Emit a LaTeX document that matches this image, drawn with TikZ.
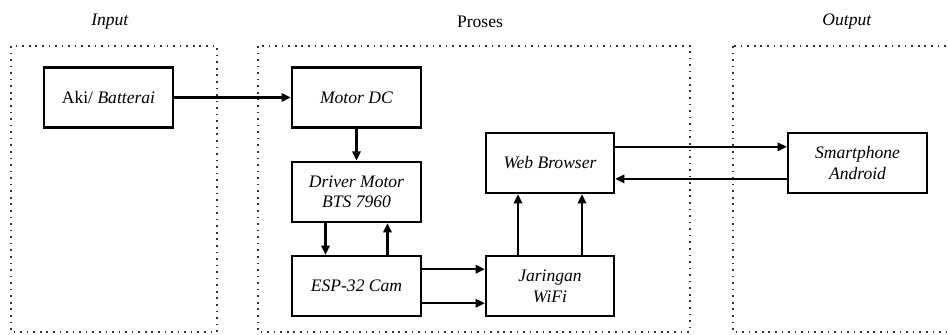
\documentclass[tikz,border=0pt]{standalone}
\usepackage{fontspec}
\setmainfont{Liberation Serif}
\usetikzlibrary{arrows.meta, positioning}

\begin{document}
\begin{tikzpicture}[x=0.03cm, y=-0.03cm, node distance=0.96cm,
    every node/.style={font=\fontsize{15}{17.5}\selectfont},
    block/.style={draw, line width=2pt, minimum width=3.86cm, minimum height=1.8cm, align=center, inner sep=2pt},
    zone/.style={draw=black!80, line width=1.8pt, dash pattern=on 1.4pt off 4.2pt},
    flow/.style={line width=2pt, -{Triangle[length=8pt, width=7pt]}}]
    \useasboundingbox (0,0) rectangle (948,334);
    \clip (0,0) rectangle (948,334);

    % Zones
    \draw[zone] (11,46) rectangle (217,332);
    \draw[zone] (258,46) rectangle (690,332);
    \draw[zone] (733,46) rectangle (970,332);
    \node (input) at (110,22) {\textit{Input}};
    \node (proses) at (480,22) {Proses};
    \node (output) at (847,22) {\textit{Output}};

    % Nodes
    \node[block] (motor) at (356.5,97.5) {\textit{Motor DC}};
    \node[block, left=3.51cm of motor] (aki) {Aki/ \textit{Batterai}};
    \node[block, below=of motor] (driver) {\textit{Driver Motor}\\\textit{BTS 7960}};
    \node[block, below=of driver] (esp) {\textit{ESP-32 Cam}};
    \node[block, minimum width=3.83cm, right=1.89cm of esp] (wifi) {\textit{Jaringan}\\\textit{WiFi}};
    \node[block, minimum width=3.83cm, above=1.83cm of wifi] (web) {\textit{Web Browser}};
    \node[block, minimum width=4.16cm, right=5.16cm of web] (phone) {\textit{Smartphone}\\\textit{Android}};

    % Connections
    \draw[flow] (aki) -- (motor);
    \draw[flow] (motor) -- (driver);
    \draw[flow] ([xshift=-0.93cm]driver.south) -- ([xshift=-0.93cm]esp.north);
    \draw[flow] ([xshift=0.93cm]esp.north) -- ([xshift=0.93cm]driver.south);
    \draw[flow] ([yshift=0.51cm]esp.east) -- ([yshift=0.51cm]wifi.west);
    \draw[flow] ([yshift=-0.51cm]esp.east) -- ([yshift=-0.51cm]wifi.west);
    \draw[flow] ([xshift=-0.96cm]wifi.north) -- ([xshift=-0.96cm]web.south);
    \draw[flow] ([xshift=0.96cm]wifi.north) -- ([xshift=0.96cm]web.south);
    \draw[flow] ([yshift=0.48cm]web.east) -- ([yshift=0.48cm]phone.west);
    \draw[flow] ([yshift=-0.48cm]phone.west) -- ([yshift=-0.48cm]web.east);
\end{tikzpicture}
\end{document}
